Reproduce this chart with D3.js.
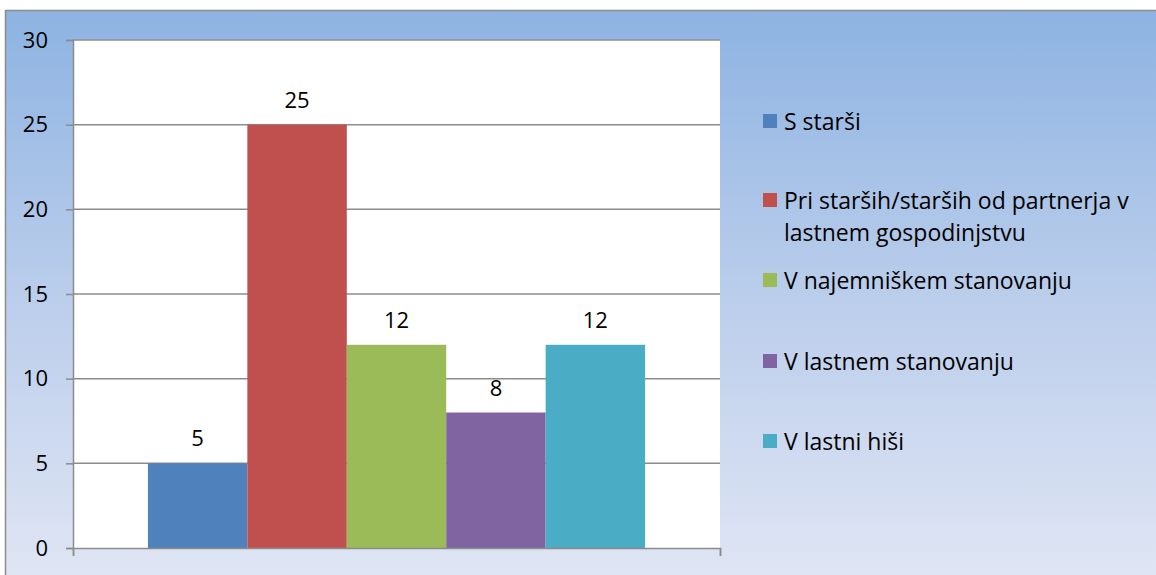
<!DOCTYPE html>
<html>
<head>
<meta charset="utf-8">
<script src="https://cdn.jsdelivr.net/npm/d3@7"></script>
<style>
  html, body { margin: 0; padding: 0; background: #fff; }
  svg { display: block; }
  text { font-family: "Open Sans", "Noto Sans", sans-serif; fill: #000; }
</style>
</head>
<body>
<svg id="chart" width="1156" height="575"></svg>
<script>
// Living arrangement categories and counts
const categories = [
  "S starši",
  "Pri starših/starših od partnerja v lastnem gospodinjstvu",
  "V najemniškem stanovanju",
  "V lastnem stanovanju",
  "V lastni hiši"
];
const values = [5, 25, 12, 8, 12];
const colors = ["#4F81BD", "#C0504D", "#9BBB59", "#8064A2", "#4BACC6"];
const yTicks = [0, 5, 10, 15, 20, 25, 30];
// Legend label lines (long label wraps onto two lines)
const legendLines = [
  ["S starši"],
  ["Pri starših/starših od partnerja v", "lastnem gospodinjstvu"],
  ["V najemniškem stanovanju"],
  ["V lastnem stanovanju"],
  ["V lastni hiši"]
];

const W = 1156, H = 575;
const FONT = '"Open Sans", "Noto Sans", sans-serif';
const svg = d3.select("#chart");

// Background gradient
const defs = svg.append("defs");
const grad = defs.append("linearGradient")
  .attr("id", "bg").attr("x1", 0).attr("y1", 0).attr("x2", 0).attr("y2", 1);
grad.append("stop").attr("offset", "0%").attr("stop-color", "#8DB3E2");
grad.append("stop").attr("offset", "50%").attr("stop-color", "#BACDEB");
grad.append("stop").attr("offset", "100%").attr("stop-color", "#DFE5F4");

svg.append("rect").attr("x", 0).attr("y", 0).attr("width", W).attr("height", H).attr("fill", "#fff");
svg.append("rect").attr("x", 5).attr("y", 10).attr("width", W - 5).attr("height", H - 10)
  .attr("fill", "url(#bg)");
// Outer frame (top and left edges)
svg.append("path").attr("d", `M5.5,${H} V10.5 H${W}`)
  .attr("fill", "none").attr("stroke", "#8C8C8C").attr("stroke-width", 1.5);

// Plot area
const plot = { left: 73, right: 720, top: 40, bottom: 548 };
const y = d3.scaleLinear().domain([0, 30]).range([plot.bottom, plot.top]);
const group = d3.scaleBand().domain(["all"]).range([plot.left, plot.right]).padding(0.131);
const x = d3.scaleBand().domain(categories).range([group("all"), group("all") + group.bandwidth()]).padding(0);

svg.append("rect")
  .attr("x", plot.left).attr("y", plot.top)
  .attr("width", plot.right - plot.left).attr("height", plot.bottom - plot.top)
  .attr("fill", "#fff");

// Horizontal gridlines
svg.append("g")
  .selectAll("line")
  .data(yTicks.filter(d => d > 0))
  .join("line")
  .attr("x1", plot.left).attr("x2", plot.right)
  .attr("y1", d => y(d)).attr("y2", d => y(d))
  .attr("stroke", "#8C8C8C").attr("stroke-width", 1.5);

// Bars
svg.append("g")
  .selectAll("rect")
  .data(values)
  .join("rect")
  .attr("x", (d, i) => x(categories[i]))
  .attr("y", d => y(d))
  .attr("width", x.bandwidth())
  .attr("height", d => y(0) - y(d))
  .attr("fill", (d, i) => colors[i]);

// Value labels
svg.append("g")
  .selectAll("text")
  .data(values)
  .join("text")
  .attr("x", (d, i) => x(categories[i]) + x.bandwidth() / 2)
  .attr("y", d => y(d) - 26)
  .attr("text-anchor", "middle")
  .attr("dominant-baseline", "central")
  .attr("font-size", 22)
  .text(d => d);

// Y axis
const yAxis = d3.axisLeft(y).tickValues(yTicks).tickSize(7).tickPadding(18);
const gy = svg.append("g").attr("transform", `translate(${plot.left},0)`).call(yAxis);
gy.select(".domain").attr("stroke", "#8C8C8C").attr("stroke-width", 1.5);
gy.selectAll(".tick line").attr("stroke", "#8C8C8C").attr("stroke-width", 1.5);
gy.selectAll(".tick text").attr("font-size", 22).attr("fill", "#000")
  .style("font-family", FONT);

// X axis baseline with end ticks
const xEdge = d3.scaleLinear().domain([0, 1]).range([plot.left, plot.right]);
const xAxis = d3.axisBottom(xEdge).tickValues([0, 1]).tickSize(8).tickFormat("");
const gx = svg.append("g").attr("transform", `translate(0,${plot.bottom})`).call(xAxis);
gx.select(".domain").attr("stroke", "#8C8C8C").attr("stroke-width", 1.5);
gx.selectAll(".tick line").attr("stroke", "#8C8C8C").attr("stroke-width", 1.5);

// Legend
const legendY = [121, 200, 280, 361, 441];
const legend = svg.append("g");
legendLines.forEach((lines, i) => {
  const g = legend.append("g").attr("transform", `translate(763,${legendY[i]})`);
  g.append("rect").attr("x", 0).attr("y", -7).attr("width", 14).attr("height", 14).attr("fill", colors[i]);
  lines.forEach((ln, j) => {
    g.append("text")
      .attr("x", 21).attr("y", j * 32)
      .attr("dominant-baseline", "central")
      .attr("font-size", 23)
      .text(ln);
  });
});
</script>
</body>
</html>
